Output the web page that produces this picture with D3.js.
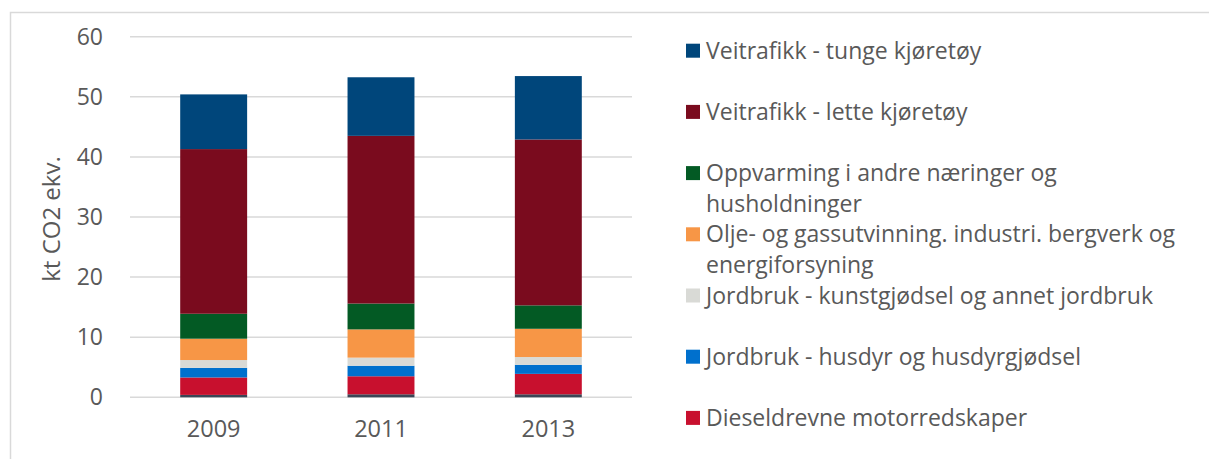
<!DOCTYPE html>
<html>
<head>
<meta charset="utf-8">
<script src="https://cdn.jsdelivr.net/npm/d3@7"></script>
<style>
  body { margin: 0; background: #fff; }
  text { font-family: "Open Sans", sans-serif; fill: #595959; }
</style>
</head>
<body>
<script>
// Data (kt CO2 ekv.)
var years = ["2009", "2011", "2013"];
var series = [
  "Annet",
  "Dieseldrevne motorredskaper",
  "Jordbruk - husdyr og husdyrgjødsel",
  "Jordbruk - kunstgjødsel og annet jordbruk",
  "Olje- og gassutvinning. industri. bergverk og energiforsyning",
  "Oppvarming i andre næringer og husholdninger",
  "Veitrafikk - lette kjøretøy",
  "Veitrafikk - tunge kjøretøy"
];
var annet     = [0.4, 0.5, 0.5];
var diesel    = [2.9, 3.0, 3.4];
var husdyr    = [1.6, 1.75, 1.5];
var kunstgj   = [1.3, 1.35, 1.3];
var olje      = [3.55, 4.7, 4.7];
var oppvarm   = [4.15, 4.3, 3.9];
var lette     = [27.4, 27.9, 27.6];
var tunge     = [9.1, 9.75, 10.55];
var yTicks = [0, 10, 20, 30, 40, 50, 60];

var colors = ["#3b4656", "#c8102e", "#0070cd", "#d9dad6", "#f79646", "#035a24", "#7a0b1e", "#00467b"];

// legend lines (top to bottom), wrapped as in the original
var legendItems = [
  {s: 7, lines: ["Veitrafikk - tunge kjøretøy"]},
  {s: 6, lines: ["Veitrafikk - lette kjøretøy"]},
  {s: 5, lines: ["Oppvarming i andre næringer og", "husholdninger"]},
  {s: 4, lines: ["Olje- og gassutvinning. industri. bergverk og", "energiforsyning"]},
  {s: 3, lines: ["Jordbruk - kunstgjødsel og annet jordbruk"]},
  {s: 2, lines: ["Jordbruk - husdyr og husdyrgjødsel"]},
  {s: 1, lines: ["Dieseldrevne motorredskaper"]}
];

var cols = [annet, diesel, husdyr, kunstgj, olje, oppvarm, lette, tunge];
var table = years.map(function(y, i) {
  var row = {year: y};
  series.forEach(function(s, j) { row[s] = cols[j][i]; });
  return row;
});

var W = 1209, H = 459;
var svg = d3.select("body").append("svg")
  .attr("width", W)
  .attr("height", H);

// outer frame
svg.append("rect")
  .attr("x", 10.5).attr("y", 12.5)
  .attr("width", W + 20).attr("height", H + 20)
  .attr("fill", "none")
  .attr("stroke", "#d9d9d9")
  .attr("stroke-width", 1.5);

var x = d3.scaleBand().domain(years).range([130, 632]).paddingInner(0.6).paddingOuter(0.3);
var y = d3.scaleLinear().domain([0, 60]).range([397.3, 36.7]);

// gridlines
svg.append("g").selectAll("line")
  .data(yTicks)
  .enter().append("line")
    .attr("x1", 130).attr("x2", 632)
    .attr("y1", function(d) { return y(d); })
    .attr("y2", function(d) { return y(d); })
    .attr("stroke", "#d9d9d9")
    .attr("stroke-width", 1.5);

// stacked bars
var stack = d3.stack().keys(series);
var layers = stack(table);

svg.append("g").selectAll("g")
  .data(layers)
  .enter().append("g")
    .attr("fill", function(d, i) { return colors[i]; })
  .selectAll("rect")
  .data(function(d) { return d; })
  .enter().append("rect")
    .attr("x", function(d) { return x(d.data.year); })
    .attr("width", x.bandwidth())
    .attr("y", function(d) { return y(d[1]); })
    .attr("height", function(d) { return y(d[0]) - y(d[1]); });

// y axis labels
var yAxis = d3.axisLeft(y).tickValues(yTicks).tickSize(0).tickPadding(0);
var gy = svg.append("g").attr("transform", "translate(103,0)").call(yAxis);
gy.select(".domain").remove();
gy.selectAll("text").style("font-size", "23px").attr("fill", "#595959").attr("font-family", "Open Sans");

// x axis labels
var xAxis = d3.axisBottom(x).tickSize(0).tickPadding(0);
var gx = svg.append("g").attr("transform", "translate(0,420)").call(xAxis);
gx.select(".domain").remove();
gx.selectAll("text").style("font-size", "23.5px").attr("fill", "#595959").attr("font-family", "Open Sans");

// y title
svg.append("text")
  .attr("transform", "translate(60,219) rotate(-90)")
  .attr("text-anchor", "middle")
  .style("font-size", "24px")
  .text("kt CO2 ekv.");

// legend
var lg = svg.append("g");
legendItems.forEach(function(it, i) {
  var cy = 50.7 + i * 61.2;
  lg.append("rect")
    .attr("x", 686).attr("y", cy - 7)
    .attr("width", 14).attr("height", 14)
    .attr("fill", colors[it.s]);
  it.lines.forEach(function(l, k) {
    lg.append("text")
      .attr("x", 706)
      .attr("y", cy + k * 31)
      .attr("dy", "0.35em")
      .style("font-size", "23px")
      .text(l);
  });
});
</script>
</body>
</html>
